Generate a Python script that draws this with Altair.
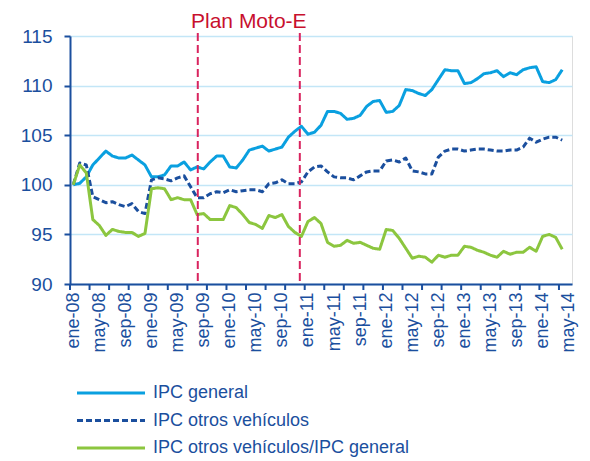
import json
import altair as alt
import pandas as pd

# ---- data (ene-08 .. abr-14, monthly) ----
ipc_general = [100.0, 100.15, 100.8, 102.0, 102.7, 103.4, 102.9, 102.7, 102.7, 103.0, 102.5, 102.0,
               100.8, 100.8, 101.0, 101.9, 101.9, 102.3, 101.5, 101.8, 101.6, 102.3, 102.9, 102.9,
               101.8, 101.7, 102.5, 103.5, 103.7, 103.9, 103.4, 103.6, 103.8, 104.8, 105.4, 105.9,
               105.1, 105.3, 106.0, 107.4, 107.4, 107.2, 106.6, 106.7, 107.0, 107.9, 108.4, 108.5,
               107.3, 107.4, 108.0, 109.6, 109.5, 109.2, 109.0, 109.6, 110.6, 111.6, 111.5, 111.5,
               110.2, 110.3, 110.7, 111.2, 111.3, 111.5, 110.9, 111.3, 111.1, 111.6, 111.8, 111.9,
               110.4, 110.3, 110.6, 111.6]
ipc_otros = [100.0, 102.2, 102.0, 98.8, 98.5, 98.2, 98.3, 98.0, 97.8, 98.1, 97.3, 97.1,
             100.5, 100.7, 100.6, 100.4, 100.7, 100.9, 99.8, 98.7, 98.7, 99.1, 99.3, 99.2,
             99.5, 99.3, 99.4, 99.5, 99.5, 99.3, 100.1, 100.2, 100.5, 100.1, 100.1, 100.3,
             101.3, 101.8, 101.9, 101.3, 100.8, 100.7, 100.7, 100.5, 100.9, 101.3, 101.4, 101.4,
             102.4, 102.5, 102.3, 102.7, 101.4, 101.3, 101.1, 101.1, 102.8, 103.4, 103.6, 103.6,
             103.4, 103.5, 103.6, 103.6, 103.5, 103.4, 103.4, 103.5, 103.5, 103.8, 104.7, 104.3,
             104.6, 104.8, 104.8, 104.5]
ipc_ratio = [100.0, 102.0, 101.2, 96.5, 95.9, 94.9, 95.5, 95.3, 95.2, 95.2, 94.8, 95.1,
             99.6, 99.7, 99.6, 98.5, 98.7, 98.5, 98.5, 97.0, 97.1, 96.5, 96.5, 96.5,
             97.9, 97.7, 97.0, 96.2, 96.0, 95.6, 96.9, 96.7, 97.0, 95.8, 95.2, 94.8,
             96.3, 96.7, 96.1, 94.2, 93.8, 93.9, 94.4, 94.1, 94.2, 93.9, 93.6, 93.5,
             95.5, 95.4, 94.6, 93.6, 92.6, 92.8, 92.7, 92.2, 92.9, 92.7, 92.9, 92.9,
             93.8, 93.7, 93.4, 93.2, 92.9, 92.7, 93.3, 93.0, 93.2, 93.2, 93.7, 93.3,
             94.8, 95.0, 94.7, 93.5]

series_names = ["IPC general", "IPC otros vehículos", "IPC otros vehículos/IPC general"]
x_labels = ["ene-08", "may-08", "sep-08", "ene-09", "may-09", "sep-09", "ene-10", "may-10",
            "sep-10", "ene-11", "may-11", "sep-11", "ene-12", "may-12", "sep-12", "ene-13",
            "may-13", "sep-13", "ene-14", "may-14"]
x_label_pos = [4 * i for i in range(len(x_labels))]
x_tick_pos = [-0.5 + 3 * k for k in range(26)]
y_ticks = [90, 95, 100, 105, 110, 115]
moto_pos = [19.1, 34.75]
moto_label = "Plan Moto-E"

# ---- styling ----
FONT = "Liberation Sans"
NAVY = "#1b4f9e"
colors = ["#0aa0e0", "#1b4f9e", "#8cc63f"]
dashes = [[1, 0], [6, 3], [1, 0]]
W, H = 502, 248

rows = []
for name, vals in zip(series_names, [ipc_general, ipc_otros, ipc_ratio]):
    for i, v in enumerate(vals):
        rows.append({"i": i, "v": v, "serie": name})
df = pd.DataFrame(rows)

label_expr = json.dumps(x_labels) + "[round(datum.value / 4)]"
x_scale = alt.Scale(domain=[-0.5, 76.5], nice=False, zero=False)
y_scale = alt.Scale(domain=[90, 115], nice=False, zero=False)
x_axis = alt.Axis(values=x_label_pos, labelExpr=label_expr, labelAngle=-90, labelAlign="right",
                  labelBaseline="middle", labelFontSize=18, labelColor=NAVY, labelFont=FONT,
                  labelPadding=8, ticks=False, grid=False, domainColor=NAVY, domainWidth=2,
                  title=None, labelOverlap=False, labelFlush=False)
y_axis = alt.Axis(values=y_ticks, labelFontSize=19, labelColor=NAVY, labelFont=FONT,
                  labelPadding=12, tickSize=6, tickColor=NAVY, tickWidth=2,
                  domainColor=NAVY, domainWidth=2, gridColor="#c3e6f7", gridWidth=1.5,
                  title=None)

X = lambda f: alt.X(f, scale=x_scale, axis=x_axis)
Y = lambda f: alt.Y(f, scale=y_scale, axis=y_axis)

layers = []
for name, c, d in zip(series_names, colors, dashes):
    layers.append(
        alt.Chart(df[df.serie == name]).mark_line(color=c, strokeWidth=3, strokeDash=d,
                                                   strokeJoin="round")
        .encode(x=X("i:Q"), y=Y("v:Q"))
    )

ticks = alt.Chart(pd.DataFrame({"p": x_tick_pos})).mark_rule(color=NAVY, strokeWidth=2).encode(
    x=X("p:Q"), y=alt.value(H), y2=alt.value(H + 6))

moto = alt.Chart(pd.DataFrame({"p": moto_pos})).mark_rule(
    color="#d9245f", strokeWidth=2, strokeDash=[8, 4]).encode(
    x=X("p:Q"), y=alt.value(-3), y2=alt.value(H))

moto_text = alt.Chart(pd.DataFrame({"t": [moto_label], "p": [sum(moto_pos) / 2]})).mark_text(
    font=FONT, fontSize=21, color="#c8102e", baseline="alphabetic", align="center").encode(
    x=X("p:Q"), y=alt.value(-8), text="t:N")

leg = []
for k, (name, c, d) in enumerate(zip(series_names, colors, dashes)):
    yy = 357 + 27.5 * k
    leg.append(alt.Chart(pd.DataFrame({"n": [name]})).mark_rule(
        color=c, strokeWidth=3, strokeDash=d).encode(
        x=alt.value(7), x2=alt.value(75), y=alt.value(yy)))
    leg.append(alt.Chart(pd.DataFrame({"n": [name]})).mark_text(
        font=FONT, fontSize=18, color=NAVY, align="left", baseline="middle").encode(
        x=alt.value(83), y=alt.value(yy), text="n:N"))

chart = alt.layer(*layers, ticks, moto, moto_text, *leg).properties(
    width=W, height=H,
    autosize=alt.AutoSizeParams(type="none"),
    padding={"left": 62, "top": 28, "right": 10, "bottom": 176},
).configure_view(stroke=None).configure(background="white")

chart.save("out.html", embed_options={"renderer": "svg", "actions": False})
